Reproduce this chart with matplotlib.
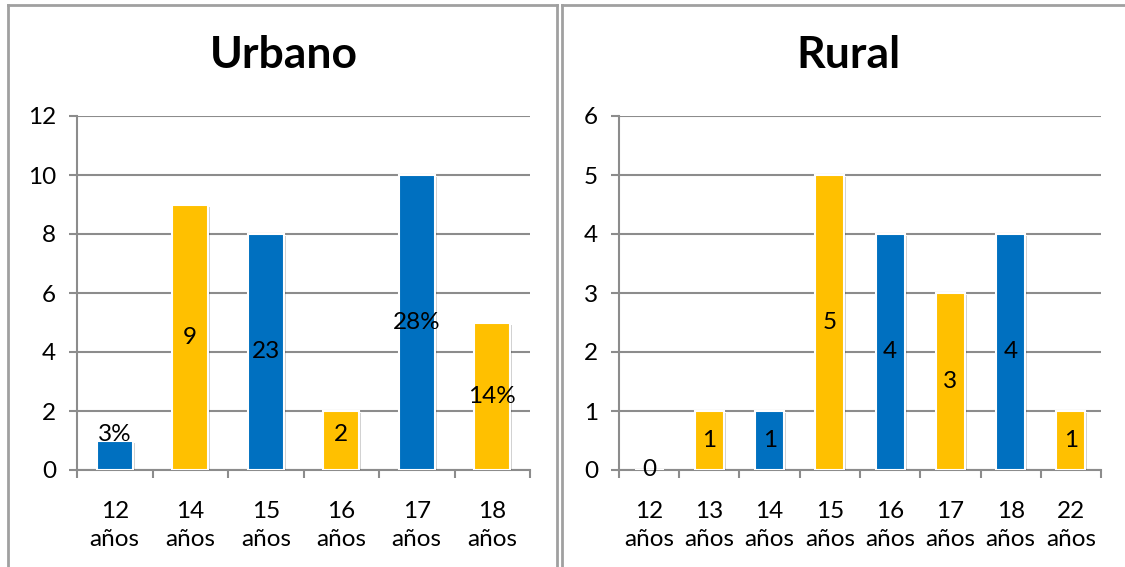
import matplotlib
matplotlib.use("Agg")
import matplotlib.pyplot as plt
import matplotlib.patheffects as pe
from matplotlib.lines import Line2D

plt.rcParams['font.family'] = ['Lato', 'DejaVu Sans']

BLUE = '#0070C0'
GOLD = '#FFC000'
GRID = '#8C8C8C'

# Urbano
urb_categories = ['12\naños', '14\naños', '15\naños', '16\naños', '17\naños', '18\naños']
urb_values = [1, 9, 8, 2, 10, 5]
urb_labels = ['3%', '9', '23', '2', '28%', '14%']
urb_colors = [BLUE, GOLD, BLUE, GOLD, BLUE, GOLD]
urb_yticks = [0, 2, 4, 6, 8, 10, 12]

# Rural
rur_categories = ['12\naños', '13\naños', '14\naños', '15\naños', '16\naños',
                  '17\naños', '18\naños', '22\naños']
rur_values = [0, 1, 1, 5, 4, 3, 4, 1]
rur_labels = ['0', '1', '1', '5', '4', '3', '4', '1']
rur_colors = [BLUE, GOLD, BLUE, GOLD, BLUE, GOLD, BLUE, GOLD]
rur_yticks = [0, 1, 2, 3, 4, 5, 6]

W, H = 1125, 567
FS = 17.5
fig = plt.figure(figsize=(W / 100, H / 100), dpi=100)


def fx(px):
    return px / W


def fy(py):
    return 1 - py / H


def panel(rect, title, title_x, cats, vals, labels, colors, yticks, label_floor):
    ax = fig.add_axes(rect)
    x = list(range(len(cats)))
    bars = ax.bar(x, vals, width=0.48, color=colors, edgecolor='white',
                  linewidth=1.5, zorder=3)
    for b in bars:
        b.set_path_effects([pe.SimplePatchShadow(offset=(1.5, -1.5),
                                                 shadow_rgbFace='#000000',
                                                 alpha=0.18),
                            pe.Normal()])
    for xi, v, lab in zip(x, vals, labels):
        ax.text(xi, max(v / 2, label_floor), lab, ha='center', va='center',
                fontsize=FS, color='black', zorder=5)
    ax.set_xlim(-0.5, len(cats) - 0.5)
    ax.set_ylim(yticks[0], yticks[-1])
    ax.set_yticks(yticks)
    ax.set_yticklabels([str(t) for t in yticks], fontsize=FS)
    ax.set_xticks(x)
    ax.set_xticklabels(cats, fontsize=FS, linespacing=1.45)
    ax.set_xticks([i - 0.5 for i in range(len(cats) + 1)], minor=True)
    ax.tick_params(axis='x', which='major', length=0, pad=22)
    ax.tick_params(axis='x', which='minor', length=6, width=1.5,
                   color=GRID, direction='out')
    ax.tick_params(axis='y', length=6, width=1.5, color=GRID,
                   direction='out', pad=9)
    ax.yaxis.grid(True, color=GRID, linewidth=1.5, zorder=0)
    ax.set_axisbelow(True)
    for s in ['top', 'right']:
        ax.spines[s].set_visible(False)
    for s in ['left', 'bottom']:
        ax.spines[s].set_color(GRID)
        ax.spines[s].set_linewidth(1.5)
    fig.text(title_x, fy(55), title, ha='center', va='center',
             fontsize=32, fontweight='bold')
    return ax


bottom = fy(470)
height = (470 - 116) / H
panel([fx(77), bottom, (530 - 77) / W, height], 'Urbano', fx(284),
      urb_categories, urb_values, urb_labels, urb_colors, urb_yticks, 1.2)
panel([fx(619), bottom, (1101 - 619) / W, height], 'Rural', fx(848),
      rur_categories, rur_values, rur_labels, rur_colors, rur_yticks, 0)

# Chart-area frames
frame = dict(color='#A0A0A0', linewidth=2, transform=fig.transFigure)
fig.add_artist(Line2D([fx(8), fx(8)], [fy(5), 0], **frame))
fig.add_artist(Line2D([fx(8), fx(557)], [fy(5), fy(5)], **frame))
fig.add_artist(Line2D([fx(557), fx(557)], [fy(5), 0], **frame))
fig.add_artist(Line2D([fx(562), fx(562)], [fy(5), 0], **frame))
fig.add_artist(Line2D([fx(562), 1], [fy(5), fy(5)], **frame))

fig.savefig('out.png', dpi=100)
